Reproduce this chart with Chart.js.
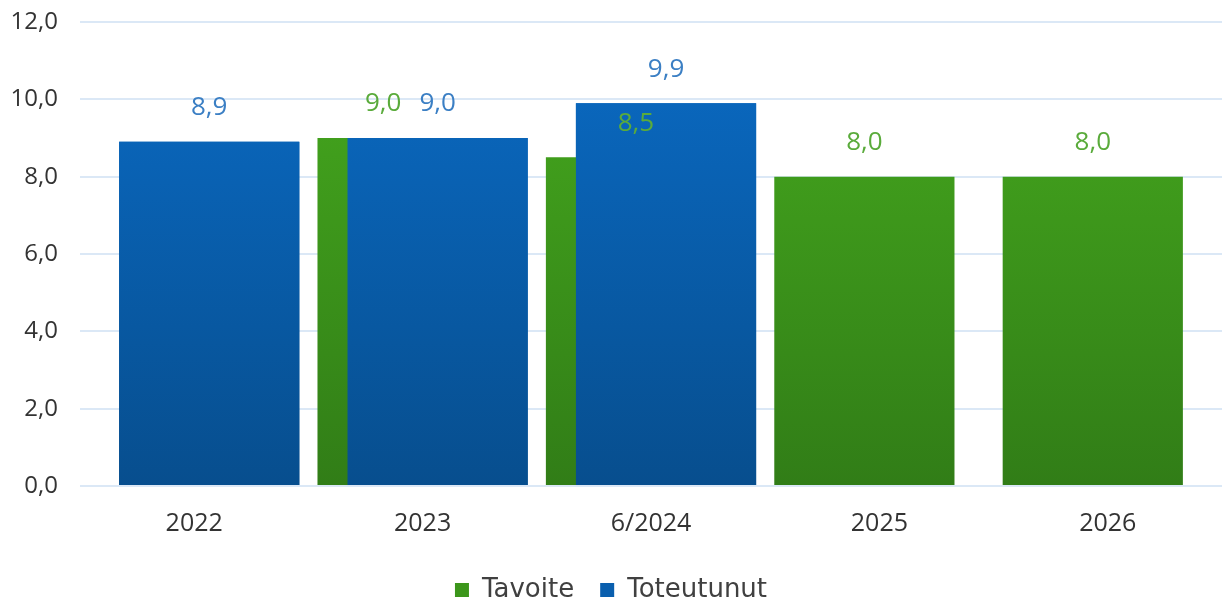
<!DOCTYPE html>
<html>
<head>
<meta charset="utf-8">
<script src="https://cdn.jsdelivr.net/npm/chart.js@4"></script>
<style>
  html, body { margin: 0; padding: 0; background: #fff; }
  #wrap { width: 1224px; height: 605px; }
</style>
</head>
<body>
<div id="wrap"><canvas id="chart"></canvas></div>
<script>
var years = ["2022", "2023", "6/2024", "2025", "2026"];
var tavoite = [null, 9.0, 8.5, 8.0, 8.0];
var toteutunut = [8.9, 9.0, 9.9, null, null];
var yTicks = [0, 2, 4, 6, 8, 10, 12];

function fmt(v) { return v.toFixed(1).replace(".", ","); }

function grad(ctx, top, bottom) {
  var area = ctx.chart.chartArea;
  if (!area) return top;
  var g = ctx.chart.ctx.createLinearGradient(0, area.top, 0, area.bottom);
  g.addColorStop(0, top);
  g.addColorStop(1, bottom);
  return g;
}

// blue bars sit in front of the green ones, then value labels on top
var labelsPlugin = {
  id: "valueLabels",
  afterDatasetsDraw: function (chart) {
    var c = chart.ctx;
    chart.getDatasetMeta(1).data.forEach(function (el, i) {
      if (toteutunut[i] != null) el.draw(c);
    });
    c.save();
    c.font = "26px 'Open Sans'";
    c.textAlign = "center";
    c.textBaseline = "middle";
    var green = chart.getDatasetMeta(0).data, blue = chart.getDatasetMeta(1).data;
    years.forEach(function (y, i) {
      var bx = null, by = null;
      if (toteutunut[i] != null) {
        bx = blue[i].x; by = blue[i].y - 34;
        c.fillStyle = "#3b7fc4";
        c.fillText(fmt(toteutunut[i]), bx, by);
      }
      if (tavoite[i] != null) {
        var txt = fmt(tavoite[i]);
        var gx = green[i].x, gy = green[i].y - 34;
        var w = c.measureText(txt).width;
        if (bx != null && Math.abs(gy - by) < 26 && Math.abs(gx - bx) < w + 16) gx = bx - w - 18;
        c.fillStyle = "#5aab3b";
        c.fillText(txt, gx, gy);
      }
    });
    c.restore();
  }
};

new Chart(document.getElementById("chart"), {
  type: "bar",
  data: {
    labels: years,
    datasets: [{
      label: "Tavoite",
      data: tavoite,
      backgroundColor: function (ctx) { return grad(ctx, "#46aa1e", "#317d17"); },
      categoryPercentage: 0.263,
      barPercentage: 6
    }, {
      label: "Toteutunut",
      data: toteutunut,
      backgroundColor: function (ctx) { return grad(ctx, "#0a6bc5", "#074e8e"); },
      categoryPercentage: 0.263,
      barPercentage: 6
    }]
  },
  options: {
    responsive: true,
    maintainAspectRatio: false,
    animation: false,
    layout: { padding: { top: 0, right: 2, left: 0, bottom: -8 } },
    scales: {
      x: {
        grid: { display: false, drawTicks: false },
        border: { display: false },
        afterFit: function (s) { s.height = 65; },
        ticks: { color: "#333", font: { family: "Open Sans", size: 25 }, padding: 23 }
      },
      y: {
        min: 0, max: 12,
        afterBuildTicks: function (s) { s.ticks = yTicks.map(function (v) { return { value: v }; }); },
        afterFit: function (s) { s.width = 80; s.paddingTop = 22; },
        grid: { color: "#dbe8f6", lineWidth: 2, drawTicks: false },
        border: { display: false },
        ticks: {
          color: "#333", padding: 22,
          font: { family: "Open Sans", size: 24 },
          callback: function (v) { return fmt(v); }
        }
      }
    },
    plugins: {
      legend: {
        position: "bottom",
        labels: {
          color: "#404040",
          font: { family: "DejaVu Sans", size: 26 },
          boxWidth: 14, boxHeight: 14, padding: 26,
          generateLabels: function (chart) {
            return [["Tavoite", "#3c961b"], ["Toteutunut", "#0a5fae"]].map(function (l, i) {
              return { text: l[0], fillStyle: l[1], strokeStyle: l[1], lineWidth: 0, datasetIndex: i, fontColor: "#404040" };
            });
          }
        }
      },
      tooltip: { enabled: false }
    }
  },
  plugins: [labelsPlugin]
});
</script>
</body>
</html>
